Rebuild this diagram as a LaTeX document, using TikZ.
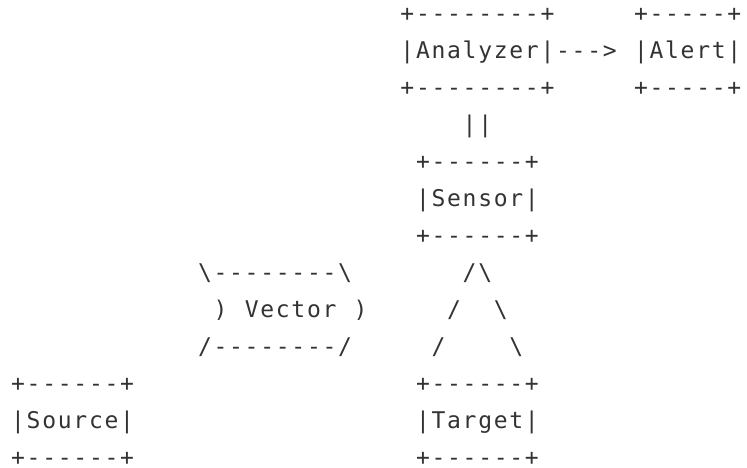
\documentclass[tikz,border=0pt]{standalone}
\usepackage{fontspec}
\setmonofont[LetterSpace=7.5]{DejaVu Sans Mono}
\definecolor{ink}{HTML}{333333}

\begin{document}
\begin{tikzpicture}[ascii/.style={anchor=base west, inner sep=0pt, text depth=0pt, font=\ttfamily\fontsize{23pt}{37pt}\selectfont, text=ink}]
	\useasboundingbox (0pt,0pt) rectangle (747pt,-468pt);
	\begin{scope}[shift={(11pt,-21.5pt)}, x=15.57pt, y=-37pt]
		% analyzer ---> alert
		\node[ascii] (ana top) at (25,0) {+--------+};
		\node[ascii] (ana) at (25,1) {|Analyzer|};
		\node[ascii] (ana bot) at (25,2) {+--------+};
		\node[ascii] (ana arrow) at (35,1) {--->};
		\node[ascii] (alert top) at (40,0) {+-----+};
		\node[ascii] (alert) at (40,1) {|Alert|};
		\node[ascii] (alert bot) at (40,2) {+-----+};
		% sensor
		\node[ascii] (link) at (29,3) {||};
		\node[ascii] (sensor top) at (26,4) {+------+};
		\node[ascii] (sensor) at (26,5) {|Sensor|};
		\node[ascii] (sensor bot) at (26,6) {+------+};
		% vector
		\node[ascii] (vector top) at (12,7) {\textbackslash--------\textbackslash};
		\node[ascii] (vector left) at (13,8) {)};
		\node[ascii] (vector) at (15,8) {Vector};
		\node[ascii] (vector right) at (22,8) {)};
		\node[ascii] (vector bot) at (12,9) {/--------/};
		% legs from sensor to target
		\node[ascii] (peak) at (29,7) {/\textbackslash};
		\node[ascii] (leg left a) at (28,8) {/};
		\node[ascii] (leg right a) at (31,8) {\textbackslash};
		\node[ascii] (leg left b) at (27,9) {/};
		\node[ascii] (leg right b) at (32,9) {\textbackslash};
		% source and target
		\node[ascii] (source top) at (0,10) {+------+};
		\node[ascii] (source) at (0,11) {|Source|};
		\node[ascii] (source bot) at (0,12) {+------+};
		\node[ascii] (target top) at (26,10) {+------+};
		\node[ascii] (target) at (26,11) {|Target|};
		\node[ascii] (target bot) at (26,12) {+------+};
	\end{scope}
\end{tikzpicture}
\end{document}
